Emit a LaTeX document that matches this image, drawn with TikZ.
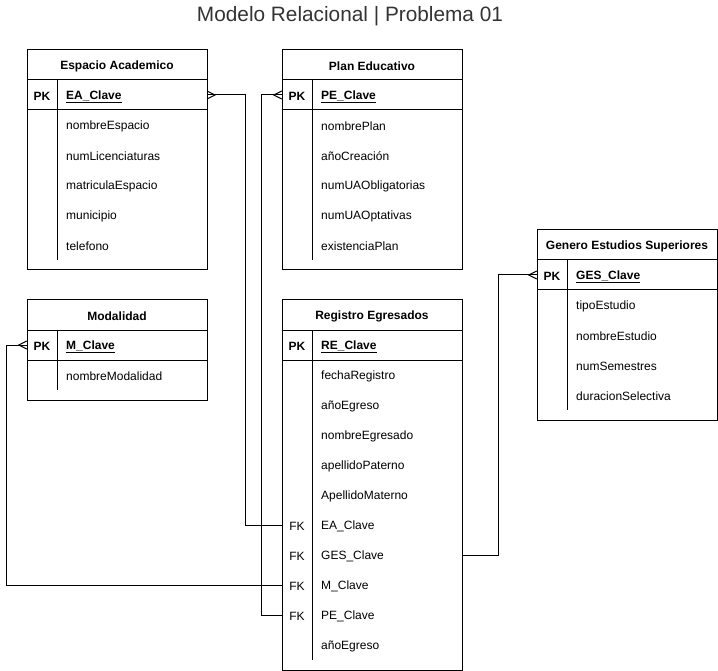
\documentclass[tikz,border=0pt]{standalone}
\usepackage{fontspec}
\setmainfont{Liberation Sans}
\begin{document}
\begin{tikzpicture}[x=1pt,y=-1pt,
  tbl/.style={draw=black,line width=1pt},
  con/.style={draw=black,line width=1pt},
  hdr/.style={font=\fontsize{12}{14}\selectfont\bfseries,inner sep=0pt,yshift=-1.5pt},
  kc/.style={minimum width=30pt,minimum height=30pt,inner sep=0pt,font=\fontsize{12}{14}\selectfont},
  kt/.style={inner sep=0pt,yshift=-1.5pt,font=\fontsize{12}{14}\selectfont},
  rw/.style={anchor=west,text width=132pt,inner xsep=9pt,inner ysep=0pt,align=left,yshift=-1.5pt,font=\fontsize{12}{14}\selectfont},
  ttl/.style={font=\fontsize{20.8}{25}\selectfont,text=black!80,inner sep=0pt}]
\useasboundingbox (0,0) rectangle (718,671);
\newcommand\ertbl[7]{%
 \begin{scope}[shift={(#2,#3)}]
 \draw[tbl] (0,0) rectangle (180,{70+30*#6});
 \draw[tbl] (0,30) -- (180,30) (0,60) -- (180,60) (30,30) -- (30,{60+30*#6});
 \node[hdr] (#1-h) at (90,15) {#4};
 \node[kc] (#1-k0) at (15,45) {};
 \node[kt,font=\fontsize{12}{14}\selectfont\bfseries] at (15,45) {PK};
 \node[rw,font=\fontsize{12}{14}\selectfont\bfseries] (#1-r0) at (30,45) {\underline{#5}};
 \foreach \k/\f [count=\i] in {#7} {
   \node[kc] (#1-k\i) at (15,{45+30*\i}) {};
   \node[kt] at (15,{45+30*\i}) {\k};
   \node[rw] (#1-r\i) at (30,{45+30*\i}) {\f};
 }
 \end{scope}}
\newcommand\crowR[1]{\draw[con] (#1) ++(0,-4) -- ++(8,4) -- ++(-8,4);}
\newcommand\crowL[1]{\draw[con] (#1) ++(0,-4) -- ++(-8,4) -- ++(8,4);}

\node[ttl] (title) at (350,16) {Modelo Relacional | Problema 01};

\ertbl{ea}{27}{50}{Espacio Academico}{EA\_Clave}{5}{/nombreEspacio,/numLicenciaturas,/matriculaEspacio,/municipio,/telefono}
\ertbl{pe}{282}{50}{Plan Educativo}{PE\_Clave}{5}{/nombrePlan,/añoCreación,/numUAObligatorias,/numUAOptativas,/existenciaPlan}
\ertbl{mo}{27}{300}{Modalidad}{M\_Clave}{1}{/nombreModalidad}
\ertbl{re}{282}{300}{Registro Egresados}{RE\_Clave}{10}{/fechaRegistro,/añoEgreso,/nombreEgresado,/apellidoPaterno,/ApellidoMaterno,FK/EA\_Clave,FK/GES\_Clave,FK/M\_Clave,FK/PE\_Clave,/añoEgreso}
\ertbl{ge}{537}{230}{Genero Estudios Superiores}{GES\_Clave}{4}{/tipoEstudio,/nombreEstudio,/numSemestres,/duracionSelectiva}

\coordinate (ea-pkE) at (207,95);
\draw[con] (ea-pkE) -- ++(38,0) |- (re-k6.west);
\crowR{ea-pkE}
\draw[con] (pe-k0.west) -- ++(-20,0) |- (re-k9.west);
\crowL{pe-k0.west}
\draw[con] (mo-k0.west) -- ++(-20,0) |- (re-k8.west);
\crowL{mo-k0.west}
\coordinate (re-gesE) at (462,555);
\draw[con] (ge-k0.west) -- ++(-38,0) |- (re-gesE);
\crowL{ge-k0.west}
\end{tikzpicture}
\end{document}
